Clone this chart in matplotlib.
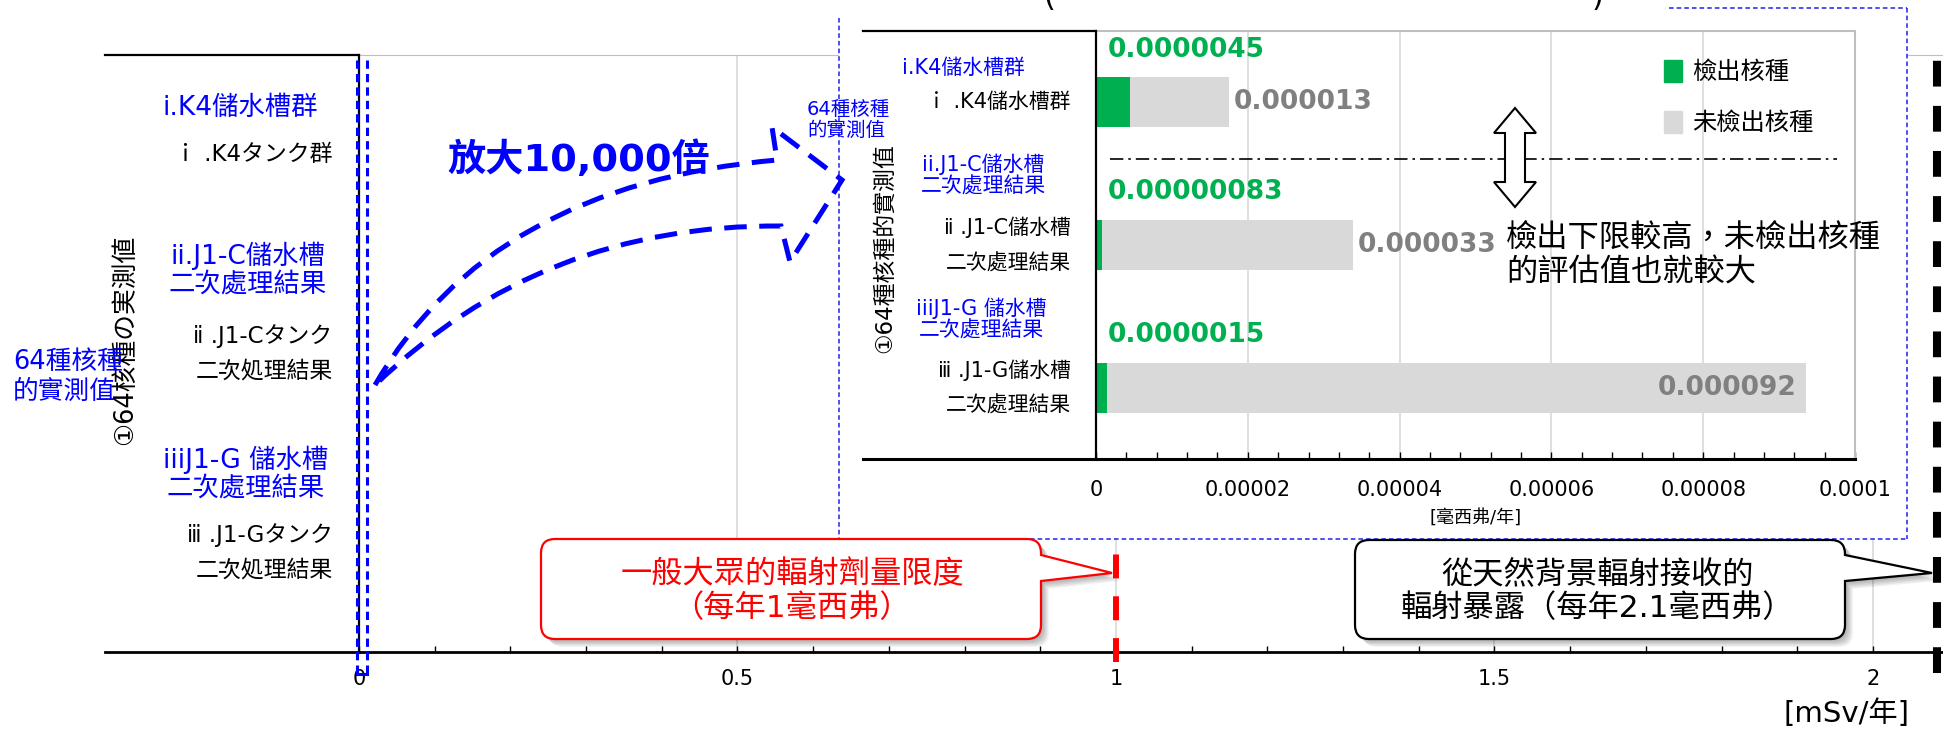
import matplotlib.pyplot as plt
import numpy as np
from matplotlib.patches import PathPatch, Rectangle, Polygon, Patch
from matplotlib.path import Path
from matplotlib.lines import Line2D
from matplotlib.ticker import MultipleLocator
from matplotlib.transforms import Affine2D

plt.rcParams['font.family'] = ['DejaVu Sans', 'Noto Sans CJK TC']

W, H = 1943, 732

# ---- data ----
cats_main = ["ｉ .K4タンク群", "ⅱ .J1-Cタンク\n二次処理結果", "ⅲ .J1-Gタンク\n二次処理結果"]
cats_inset = ["ｉ .K4儲水槽群", "ⅱ .J1-C儲水槽\n二次處理結果", "ⅲ .J1-G儲水槽\n二次處理結果"]
cats_zh = ["i.K4儲水槽群", "ii.J1-C儲水槽\n二次處理結果", "iiiJ1-G 儲水槽\n二次處理結果"]
detected = [0.0000045, 0.00000083, 0.0000015]
undetected = [0.000013, 0.000033, 0.000092]
detected_txt = ["0.0000045", "0.00000083", "0.0000015"]
undetected_txt = ["0.000013", "0.000033", "0.000092"]
public_limit = 1.0        # mSv/yr
natural_bg = 2.085        # drawn position of the 2.1 mSv/yr line
main_ticks = [0, 0.5, 1, 1.5, 2]
main_ticklabels = ["0", "0.5", "1", "1.5", "2"]
inset_ticks = [0, 0.00002, 0.00004, 0.00006, 0.00008, 0.0001]
inset_ticklabels = ["0", "0.00002", "0.00004", "0.00006", "0.00008", "0.0001"]
legend_labels = ["檢出核種", "未檢出核種"]

GREEN = "#00B050"
GRAY = "#D9D9D9"
BLUE = "#0000FF"

fig = plt.figure(figsize=(W / 100, H / 100), dpi=100)
# pixel coords of the reference (y pointing down)
px = Affine2D().scale(1 / W, -1 / H).translate(0, 1) + fig.transFigure


def box(l, t, r, b):
    return [l / W, 1 - b / H, (r - l) / W, (b - t) / H]


def pline(xs, ys, **kw):
    fig.add_artist(Line2D(xs, ys, transform=px, **kw))


# ---- main axes ----
ax = fig.add_axes(box(359, 55, 1943, 652))
ypos = np.arange(len(cats_main))
ax.barh(ypos, detected, height=0.35, color=GREEN)
ax.barh(ypos, undetected, left=detected, height=0.35, color=GRAY)
ax.set_xlim(0, 2.0925)
ax.set_ylim(2.5, -0.5)
ax.set_xticks(main_ticks)
ax.set_xticklabels(main_ticklabels)
ax.xaxis.set_minor_locator(MultipleLocator(0.1))
ax.tick_params(axis="x", which="both", direction="in", length=4, width=1, pad=12, labelsize=15)
ax.set_yticks(ypos)
ax.set_yticklabels(cats_main, fontsize=16.5, linespacing=1.65)
for lab in ax.get_yticklabels():
    lab.set_va("center")
ax.tick_params(axis="y", length=0, pad=19)
ax.grid(axis="x", color=GRAY, lw=1.2)
ax.set_axisbelow(True)
ax.spines["top"].set_color("#BFBFBF")
ax.spines["right"].set_visible(False)
ax.spines["left"].set_linewidth(1.6)
ax.spines["bottom"].set_linewidth(2)
ax.axvline(public_limit, ymin=-0.017, ymax=1, color="red", lw=4.3, ls=(0, (4, 3)), clip_on=False, zorder=3)
ax.axvline(natural_bg, ymin=-0.035, ymax=1, color="black", lw=5.8, ls=(0, (3.2, 2.4)), clip_on=False, zorder=3)

pline([105, 359], [55, 55], color="black", lw=1.6)
pline([105, 359], [652, 652], color="black", lw=2)

fig.text(1846, 714, "[mSv/年]", transform=px, fontsize=21, ha="center", va="center")

# left labels
fig.text(125, 340, "①64核種の実測値", transform=px, rotation=90, fontsize=18.5, ha="center", va="center")
fig.text(13, 377, "64種核種\n的實測值", transform=px, fontsize=18.5, color=BLUE, ha="left", va="center",
         linespacing=1.2)
for (cx, cy), s in zip([(240, 108), (248, 270), (246, 474)], cats_zh):
    fig.text(cx, cy, s, transform=px, fontsize=19, color=BLUE, ha="center", va="center", linespacing=1.15)

# small dashed rectangle at x=0 (zoomed region)
for xx in (357, 367):
    pline([xx, xx], [60, 674], color=BLUE, lw=2.2, ls=(0, (2.7, 1.7)))
pline([357, 367], [674, 674], color=BLUE, lw=2.2)

# ---- inset ----
fig.add_artist(Rectangle((839, 8), 1068, 531, transform=px, fc="white", ec="none", zorder=1))
for xs, ys in [([839, 839], [18, 539]), ([839, 1907], [539, 539]), ([1907, 1907], [8, 539]),
               ([1669, 1907], [8, 8])]:
    pline(xs, ys, color="#2020F0", lw=1.1, ls=(0, (3, 2)), zorder=1.5)

fig.text(1049, 6, "(", transform=px, fontsize=22, ha="center", va="baseline")
fig.text(1597, 6, ")", transform=px, fontsize=22, ha="center", va="baseline")

ins = fig.add_axes(box(1096, 31, 1855, 459), zorder=2)
ins.set_facecolor("none")
ins.barh(ypos, detected, height=0.35, color=GREEN)
ins.barh(ypos, undetected, left=detected, height=0.35, color=GRAY)
ins.set_xlim(0, 0.0001)
ins.set_ylim(2.5, -0.5)
ins.set_xticks(inset_ticks)
ins.set_xticklabels(inset_ticklabels)
ins.xaxis.set_minor_locator(MultipleLocator(0.000004))
ins.tick_params(axis="x", which="both", direction="in", length=5, width=1, pad=15, labelsize=15)
ins.set_yticks(ypos)
ins.set_yticklabels(cats_inset, fontsize=15, linespacing=1.9)
for lab in ins.get_yticklabels():
    lab.set_va("center")
ins.tick_params(axis="y", length=0, pad=18)
ins.grid(axis="x", color=GRAY, lw=1.2)
ins.set_axisbelow(True)
for s in ("top", "right"):
    ins.spines[s].set_color("#BFBFBF")
    ins.spines[s].set_linewidth(1.5)
ins.spines["left"].set_linewidth(1.6)
ins.spines["bottom"].set_linewidth(2.2)

for i in range(len(detected)):
    ins.text(0.0000016, i - 0.37, detected_txt[i], color=GREEN, fontsize=19, fontweight="bold",
             ha="left", va="center")
    total = detected[i] + undetected[i]
    if total > 0.00008:
        ins.text(total - 0.0000012, i, undetected_txt[i], color="#808080", fontsize=19,
                 fontweight="bold", ha="right", va="center")
    else:
        ins.text(total + 0.0000006, i, undetected_txt[i], color="#808080", fontsize=19,
                 fontweight="bold", ha="left", va="center")

pline([863, 1096], [31, 31], color="black", lw=1.6, zorder=2.5)
pline([863, 1096], [459, 459], color="black", lw=2.2, zorder=2.5)
fig.text(1476, 518, "[毫西弗/年]", transform=px, fontsize=13, ha="center", va="center")
fig.text(885, 248, "①64種核種的實測值", transform=px, rotation=90, fontsize=16.5, ha="center", va="center")
fig.text(807, 121, "64種核種\n的實測值", transform=px, fontsize=14, color=BLUE, ha="left", va="center",
         linespacing=1.13, zorder=4)
for (cx, cy), s in zip([(963, 68), (983, 175), (981, 319)], cats_zh):
    fig.text(cx, cy, s, transform=px, fontsize=15, color=BLUE, ha="center", va="center", linespacing=1.05)

fig.legend(handles=[Patch(color=GREEN, label=legend_labels[0]), Patch(color=GRAY, label=legend_labels[1])],
           loc="upper left", bbox_to_anchor=(1664 / W, 1 - 60 / H), frameon=False, fontsize=17.5,
           handlelength=0.75, handleheight=1.0, handletextpad=0.4, labelspacing=1.1, borderpad=0,
           borderaxespad=0)

# dash-dot separator + double arrow + note
pline([1110, 1837], [159, 159], color="black", lw=1.2, ls=(0, (8, 3, 1.5, 3)), zorder=3)
arr = [(1515, 108), (1536, 133), (1525, 133), (1525, 182), (1536, 182), (1515, 207),
       (1494, 182), (1505, 182), (1505, 133), (1494, 133)]
fig.add_artist(Polygon(arr, closed=True, transform=px, fc="white", ec="black", lw=1.5, zorder=4))
fig.text(1506, 256, "檢出下限較高，未檢出核種\n的評估值也就較大", transform=px, fontsize=22.5,
         ha="left", va="center", linespacing=1.2)

# ---- curved dashed zoom arrow ----
M, L, C3, CL = Path.MOVETO, Path.LINETO, Path.CURVE3, Path.CLOSEPOLY
tip = (375, 385)
av = [tip, (490, 185), (777, 160), (772, 127), (842, 180), (790, 262), (781, 226), (542, 224), tip]
ac = [M, C3, C3, L, L, L, L, C3, C3]
fig.add_artist(PathPatch(Path(av, ac), transform=px, fill=False, ec=BLUE, lw=3.6,
                         ls=(0, (4.5, 2.5)), capstyle="butt", zorder=5))
fig.text(579, 160, "放大10,000倍", transform=px, fontsize=27.5, fontweight="bold", color=BLUE,
         ha="center", va="center", zorder=5)


# ---- callouts ----
def callout(l, t, r, b, tipxy, p1, p2, edge, rad=14):
    v = [(l + rad, t), (r - rad, t), (r, t), (r, t + rad), (r, p1), tipxy, (r, p2), (r, b - rad),
         (r, b), (r - rad, b), (l + rad, b), (l, b), (l, b - rad), (l, t + rad), (l, t), (l + rad, t),
         (l + rad, t)]
    c = [M, L, C3, C3, L, L, L, L, C3, C3, L, C3, C3, L, C3, C3, CL]
    path = Path(v, c)
    for k in range(1, 7):
        fig.add_artist(PathPatch(path, transform=Affine2D().translate(k * 1.3, k * 1.3) + px,
                                 fc="black", ec="none", alpha=0.06, zorder=4))
    fig.add_artist(PathPatch(path, transform=px, fc="white", ec=edge, lw=1.6, zorder=4.5))


callout(541, 539, 1041, 639, (1112, 573), 555, 581, "red")
fig.text(792, 591, "一般大眾的輻射劑量限度\n（每年1毫西弗）", transform=px, fontsize=22.5, color="red",
         ha="center", va="center", linespacing=1.15, zorder=6)
callout(1355, 540, 1845, 639, (1932, 573), 555, 581, "black")
fig.text(1598, 591, "從天然背景輻射接收的\n輻射暴露（每年2.1毫西弗）", transform=px, fontsize=22.5,
         ha="center", va="center", linespacing=1.15, zorder=6)

fig.savefig("out.png", dpi=100)
